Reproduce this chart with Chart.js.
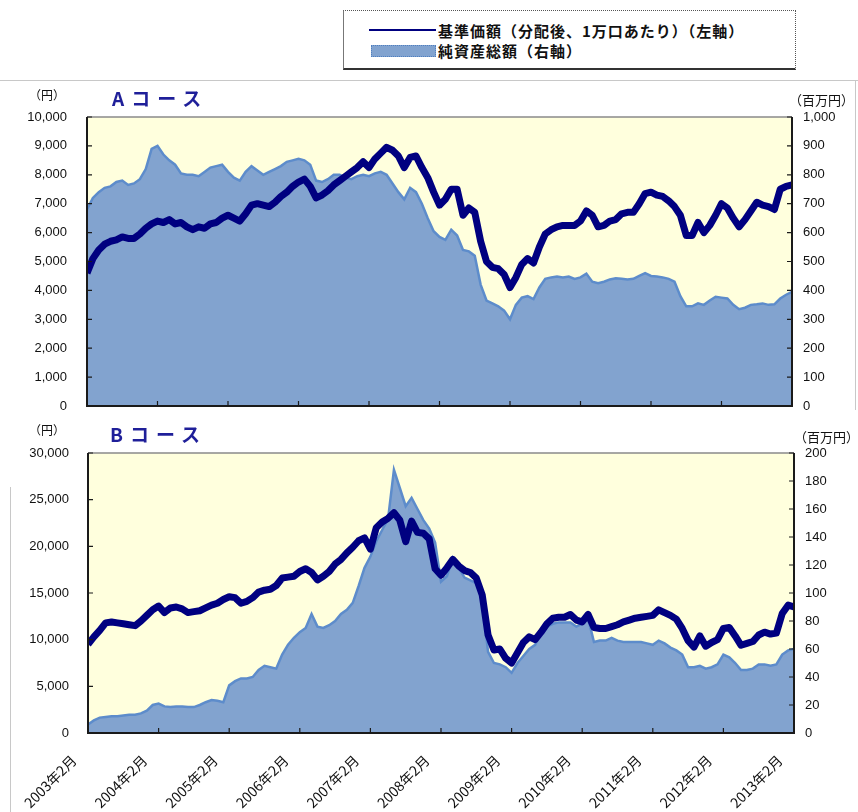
<!DOCTYPE html>
<html><head><meta charset="utf-8">
<script src="https://cdn.jsdelivr.net/npm/chart.js@4.4.0/dist/chart.umd.min.js"></script>
<style>
body{margin:0;background:#fff;width:858px;height:812px;overflow:hidden;position:relative;font-family:"Noto Sans CJK JP","Liberation Sans",sans-serif;}
.abs{position:absolute;white-space:nowrap;}
.unit{font-size:12px;color:#111;line-height:14px;}
.title{font-size:19px;font-weight:bold;color:#1F1F99;letter-spacing:7px;line-height:22px;}
#legend{left:343px;top:10px;width:451px;height:57px;border-top:1px dotted #555;border-right:1px dotted #555;border-left:1px solid #777;border-bottom:2px solid #333;}
.legtxt{font-size:15px;font-weight:bold;color:#111;line-height:17px;letter-spacing:1px;}
</style></head><body>

<div class="abs" style="left:0;top:80px;width:858px;height:1px;background:#c8c8c8"></div>
<div class="abs" style="left:855px;top:80px;width:1px;height:330px;background:#c8c8c8"></div>
<div class="abs" style="left:10px;top:487px;width:1px;height:325px;background:#c8c8c8"></div>

<div id="legend" class="abs">
  <div class="abs" style="left:25px;top:18px;width:67px;height:2px;background:#000080"></div>
  <div class="abs legtxt" style="left:94px;top:11px">基準価額（分配後、1万口あたり）（左軸）</div>
  <div class="abs" style="left:27px;top:34px;width:63px;height:10px;background:#82A3CF;border:1px dotted #4F7FC0"></div>
  <div class="abs legtxt" style="left:94px;top:31px">純資産総額（右軸）</div>
</div>

<div class="abs" style="left:0;top:80px;width:858px;height:340px"><canvas id="cA" width="858" height="340"></canvas></div>
<div class="abs" style="left:0;top:410px;width:858px;height:402px"><canvas id="cB" width="858" height="402"></canvas></div>

<div class="abs unit" style="left:29px;top:88px">（円）</div>
<div class="abs title" style="left:112px;top:87px">Aコース</div>
<div class="abs unit" style="left:789px;top:93px;font-size:13px">（百万円）</div>

<div class="abs unit" style="left:29px;top:423px">（円）</div>
<div class="abs title" style="left:110px;top:423px">Bコース</div>
<div class="abs unit" style="left:794px;top:430px;font-size:13px">（百万円）</div>

<script>
// x-axis tick labels (one per year, monthly data index 0..120 = 2003年2月..2013年2月)
const yearLabels = ['2003年2月','2004年2月','2005年2月','2006年2月','2007年2月','2008年2月','2009年2月','2010年2月','2011年2月','2012年2月','2013年2月'];

// Aコース 基準価額 (円), monthly
const navA = [4600,5100,5400,5600,5700,5750,5850,5800,5800,5950,6150,6300,6400,6350,6450,6300,6350,6200,6100,6200,
6150,6300,6350,6500,6600,6500,6400,6650,6950,7000,6950,6900,7050,7250,7400,7600,7750,7850,7600,7200,
7300,7450,7650,7800,7950,8100,8250,8450,8250,8550,8750,8950,8850,8650,8250,8600,8650,8250,7900,7400,
6950,7150,7500,7500,6600,6850,6700,5700,5000,4800,4750,4550,4100,4450,4900,5100,4950,5500,5950,6100,
6200,6250,6250,6250,6400,6750,6600,6200,6250,6400,6450,6650,6700,6700,7000,7350,7400,7300,7250,7100,
6900,6600,5900,5900,6350,6000,6250,6600,7000,6850,6500,6200,6450,6750,7050,6950,6900,6800,7500,7600,7650];

// Aコース 純資産総額 (百万円), monthly
const assetsA = [680,720,740,755,760,775,780,765,770,785,820,890,900,870,850,835,805,800,800,795,
810,825,830,835,810,790,780,810,830,815,800,810,820,830,845,850,855,850,835,780,
775,785,800,800,790,785,795,800,795,805,810,800,770,740,715,755,740,700,650,605,
585,575,610,590,540,535,520,420,365,355,345,330,300,350,375,380,370,410,440,445,
448,445,448,440,445,458,430,425,430,438,442,440,438,440,450,460,450,448,445,440,
430,380,345,345,355,350,365,378,375,372,350,335,340,350,352,355,350,352,372,385,395];

// Bコース 基準価額 (円), monthly
const navB = [9500,10300,11000,11800,11900,11800,11700,11600,11500,12000,12600,13200,13600,12900,13400,13500,13300,12900,13000,13100,
13400,13700,13900,14300,14600,14500,13900,14100,14500,15100,15300,15400,15800,16600,16700,16800,17300,17600,17200,16400,
16800,17300,18100,18600,19300,19900,20600,20900,19700,22000,22600,23000,23600,22800,20500,22700,21500,21400,20800,17600,
16900,17700,18600,17900,17400,17200,16600,14800,10500,8900,9000,8000,7500,8600,9700,10300,10000,10800,11700,12300,
12400,12400,12700,12100,11900,12700,11300,11200,11200,11400,11600,11900,12100,12300,12400,12500,12600,13200,12900,12600,
12200,11200,9900,9200,10400,9300,9700,10000,11200,11300,10400,9400,9600,9800,10500,10800,10600,10700,12800,13700,13500];

// Bコース 純資産総額 (百万円), monthly
const assetsB = [6,9,11,11.5,12,12,12.5,13,13,14,16,20,21,19,18.5,19,19,18.5,18.5,20,
22,23.5,23,22,34,37,39,39,40,45,48,47,46,56,63,68,72,75,85,76,
75,77,80,85,88,93,105,118,126,137,145,153,188,175,162,168,160,152,146,136,
108,112,125,118,111,109,107,95,58,50,49,47,43,50,55,60,63,72,76,78,
79,79,79,76,78,82,65,66,66,68,66,65,65,65,65,64,63,66,64,61,
59,56,47,47,48,46,47,49,56,54,50,45,45,46,49,49,48,49,56,59,60];

const NAVY = '#000080';
const AREA_FILL = '#82A3CF';
const AREA_LINE = '#5D8CCB';
const PLOT_BG = '#FFFFDD';

const framePlugin = {
  id: 'frame',
  beforeDatasetsDraw(chart) {
    const {ctx, chartArea: a} = chart;
    ctx.save();
    ctx.fillStyle = PLOT_BG;
    ctx.fillRect(a.left, a.top, a.right - a.left, a.bottom - a.top);
    ctx.restore();
  },
  afterDraw(chart) {
    const {ctx, chartArea: a, scales} = chart;
    ctx.save();
    ctx.strokeStyle = '#8a8a8a'; ctx.lineWidth = 1.5;
    ctx.beginPath(); ctx.moveTo(a.left, a.top); ctx.lineTo(a.right, a.top); ctx.stroke();
    ctx.strokeStyle = '#1a1a1a'; ctx.lineWidth = 2;
    ctx.beginPath();
    ctx.moveTo(a.left, a.top); ctx.lineTo(a.left, a.bottom); ctx.lineTo(a.right, a.bottom); ctx.lineTo(a.right, a.top);
    ctx.stroke();
    ctx.lineWidth = 1.2;
    ctx.beginPath();
    scales.y.ticks.forEach(t => { const py = scales.y.getPixelForValue(t.value); ctx.moveTo(a.left, py); ctx.lineTo(a.left + 5, py); });
    scales.y2.ticks.forEach(t => { const py = scales.y2.getPixelForValue(t.value); ctx.moveTo(a.right - 5, py); ctx.lineTo(a.right, py); });
    scales.x.ticks.forEach(t => { const px = scales.x.getPixelForValue(t.value); ctx.moveTo(px, a.bottom); ctx.lineTo(px, a.bottom - 5); });
    ctx.stroke();
    ctx.restore();
  }
};

function makeChart(id, nav, assets, leftMax, leftStep, rightMax, rightStep, showX, g) {
  const tickFont = {family: '"Liberation Sans", Arial, sans-serif', size: 13};
  return new Chart(document.getElementById(id), {
    type: 'line',
    data: {
      datasets: [
        {
          label: '基準価額（分配後、1万口あたり）（左軸）',
          data: nav.map((v, i) => ({x: i, y: v})),
          borderColor: NAVY, borderWidth: 7, pointRadius: 0, fill: false,
          borderJoinStyle: 'round', tension: 0, yAxisID: 'y', order: 0
        },
        {
          label: '純資産総額（右軸）',
          data: assets.map((v, i) => ({x: i, y: v})),
          borderColor: AREA_LINE, borderWidth: 2.5, backgroundColor: AREA_FILL,
          pointRadius: 0, fill: 'origin', tension: 0, yAxisID: 'y2', order: 1
        }
      ]
    },
    options: {
      responsive: false, animation: false, devicePixelRatio: 1,
      layout: {padding: {top: g.top, left: 0, right: 0, bottom: 0}},
      plugins: {legend: {display: false}, tooltip: {enabled: false}},
      scales: {
        x: {
          type: 'linear', min: 0, max: 120, position: 'bottom',
          grid: {display: false, drawTicks: false}, border: {display: false},
          ticks: {
            display: showX, stepSize: 12, autoSkip: false, minRotation: 45, maxRotation: 45,
            padding: g.xpad, labelOffset: -14, color: '#111',
            font: {family: '"Noto Sans CJK JP", sans-serif', size: 14},
            callback: v => yearLabels[Math.round(v / 12)]
          },
          afterFit: s => { s.height = g.xh; }
        },
        y: {
          position: 'left', min: 0, max: leftMax,
          grid: {display: false, drawTicks: true, tickLength: g.lpad}, border: {display: false},
          ticks: {stepSize: leftStep, padding: 0, color: '#111', font: tickFont,
                  callback: v => v.toLocaleString('en-US')},
          afterFit: s => { s.width = g.lw; }
        },
        y2: {
          position: 'right', min: 0, max: rightMax,
          grid: {display: false, drawTicks: true, tickLength: 11}, border: {display: false},
          ticks: {stepSize: rightStep, padding: 0, color: '#111', font: tickFont,
                  callback: v => v.toLocaleString('en-US')},
          afterFit: s => { s.width = g.rw; }
        }
      }
    },
    plugins: [framePlugin]
  });
}

makeChart('cA', navA, assetsA, 10000, 1000, 1000, 100, false, {top: 37, xh: 14, lw: 87, rw: 66, lpad: 20, xpad: 3});
makeChart('cB', navB, assetsB, 30000, 5000, 200, 20, true, {top: 43, xh: 79, lw: 88, rw: 64, lpad: 19, xpad: 19});
</script>
</body></html>
